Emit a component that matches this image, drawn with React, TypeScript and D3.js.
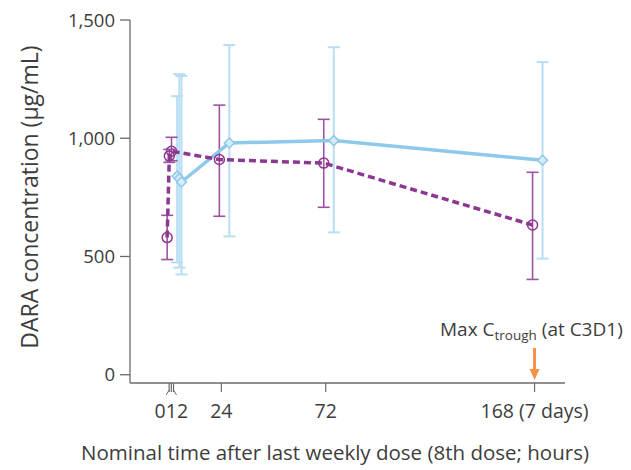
import React from "react";
import { scaleLinear, line, format } from "d3";

// nominal hours after the last weekly dose
const hours = [0, 1, 2, 24, 72, 168];

// light blue series (solid line, diamonds)
const blueMean = [840, 830, 815, 980, 990, 907];
const blueLow = [475, 453, 424, 585, 602, 491];
const blueHigh = [1178, 1271, 1263, 1394, 1385, 1322];

// purple series (dashed line, circles)
const purpleMean = [580, 925, 945, 910, 895, 633];
const purpleLow = [487, 898, 905, 670, 708, 403];
const purpleHigh = [674, 953, 1004, 1140, 1080, 856];

const yTicks = [0, 500, 1000, 1500];
const xTicks = [0, 1, 2, 24, 72, 168];
const xLabelAt = [1, 24, 72, 168];
const xLabels = ["012", "24", "72", "168 (7 days)"];

const annotationHour = 168;

const width = 631;
const height = 470;
const axisColor = "#6b6b6b";
const textColor = "#3d3d3d";
const blue = "#8ec8ea";
const blueBar = "#b7def3";
const purple = "#8c3790";
const orange = "#f59247";
const font = "'Open Sans', 'Noto Sans', sans-serif";

const App = () => {
  const x = scaleLinear().domain([-18, 182]).range([130, 565]);
  const y = scaleLinear().domain([-35, 1500]).range([383, 20]);
  const blueShift = 8;
  const purpleShift = -2;

  const bluePts = hours.map((h, i) => [x(h) + blueShift, y(blueMean[i])] as [number, number]);
  const purplePts = hours.map((h, i) => [x(h) + purpleShift, y(purpleMean[i])] as [number, number]);
  const path = line();

  const cap = 6;

  return (
    <svg
      width={width}
      height={height}
      style={{ position: "absolute", left: 0, top: 0, background: "#fff" }}
      fontFamily={font}
    >
      {/* axes */}
      <line x1={130} x2={130} y1={y(1500)} y2={383} stroke={axisColor} strokeWidth={1.3} />
      <line x1={130} x2={565} y1={383} y2={383} stroke={axisColor} strokeWidth={1.3} />
      {yTicks.map((t) => (
        <g key={t}>
          <line x1={120} x2={130} y1={y(t)} y2={y(t)} stroke={axisColor} strokeWidth={1.3} />
          <text x={115} y={y(t)} dy="0.36em" textAnchor="end" fontSize={18.5} fill={textColor}>
            {format(",")(t)}
          </text>
        </g>
      ))}
      {xTicks.map((t) => (
        <line key={t} x1={x(t)} x2={x(t)} y1={383} y2={392} stroke={axisColor} strokeWidth={1.2} />
      ))}
      {/* axis break marks near zero */}
      <line x1={x(0)} x2={x(0) - 3} y1={390} y2={395} stroke={axisColor} strokeWidth={1} />
      <line x1={x(2)} x2={x(2) + 3} y1={390} y2={395} stroke={axisColor} strokeWidth={1} />
      {xLabels.map((l, i) => (
        <text key={l} x={x(xLabelAt[i])} y={418} textAnchor="middle" fontSize={19.5} fill={textColor}>
          {l}
        </text>
      ))}
      <text x={335} y={460} textAnchor="middle" fontSize={20.5} fill={textColor}>
        Nominal time after last weekly dose (8th dose; hours)
      </text>
      <text
        transform="translate(38,197) rotate(-90)"
        textAnchor="middle"
        fontSize={23}
        fill={textColor}
      >
        DARA concentration (μg/mL)
      </text>

      {/* blue error bars */}
      {hours.map((h, i) => {
        const cx = x(h) + blueShift;
        return (
          <g key={"be" + i} stroke={blueBar} strokeWidth={2}>
            <line x1={cx} x2={cx} y1={y(blueLow[i])} y2={y(blueHigh[i])} />
            <line x1={cx - cap} x2={cx + cap} y1={y(blueLow[i])} y2={y(blueLow[i])} />
            <line x1={cx - cap} x2={cx + cap} y1={y(blueHigh[i])} y2={y(blueHigh[i])} />
          </g>
        );
      })}
      {/* purple error bars */}
      {hours.map((h, i) => {
        const cx = x(h) + purpleShift;
        return (
          <g key={"pe" + i} stroke={purple} strokeWidth={1.6} opacity={0.85}>
            <line x1={cx} x2={cx} y1={y(purpleLow[i])} y2={y(purpleHigh[i])} />
            <line x1={cx - cap} x2={cx + cap} y1={y(purpleLow[i])} y2={y(purpleLow[i])} />
            <line x1={cx - cap} x2={cx + cap} y1={y(purpleHigh[i])} y2={y(purpleHigh[i])} />
          </g>
        );
      })}

      {/* lines */}
      <path d={path(bluePts) ?? ""} fill="none" stroke={blue} strokeWidth={3.5} strokeLinejoin="round" />
      <path
        d={path(purplePts) ?? ""}
        fill="none"
        stroke={purple}
        strokeWidth={3.5}
        strokeDasharray="7 4"
      />

      {/* markers */}
      {bluePts.map(([px, py], i) => (
        <path
          key={"bm" + i}
          d={`M${px},${py - 5}L${px + 5},${py}L${px},${py + 5}L${px - 5},${py}Z`}
          fill="#d6ecf8"
          stroke={blue}
          strokeWidth={1.5}
        />
      ))}
      {purplePts.map(([px, py], i) => (
        <circle key={"pm" + i} cx={px} cy={py} r={5} fill="none" stroke={purple} strokeWidth={1.5} />
      ))}

      {/* annotation */}
      <text x={440} y={336} fontSize={19} fill={textColor}>
        Max C
        <tspan fontSize={13.5} dy={4}>trough</tspan>
        <tspan dy={-4}> (at C3D1)</tspan>
      </text>
      <line
        x1={x(annotationHour)}
        x2={x(annotationHour)}
        y1={348}
        y2={370}
        stroke={orange}
        strokeWidth={3}
      />
      <path
        d={`M${x(annotationHour) - 5},${369}L${x(annotationHour) + 5},${369}L${x(annotationHour)},${380}Z`}
        fill={orange}
      />
    </svg>
  );
};

export default App;
